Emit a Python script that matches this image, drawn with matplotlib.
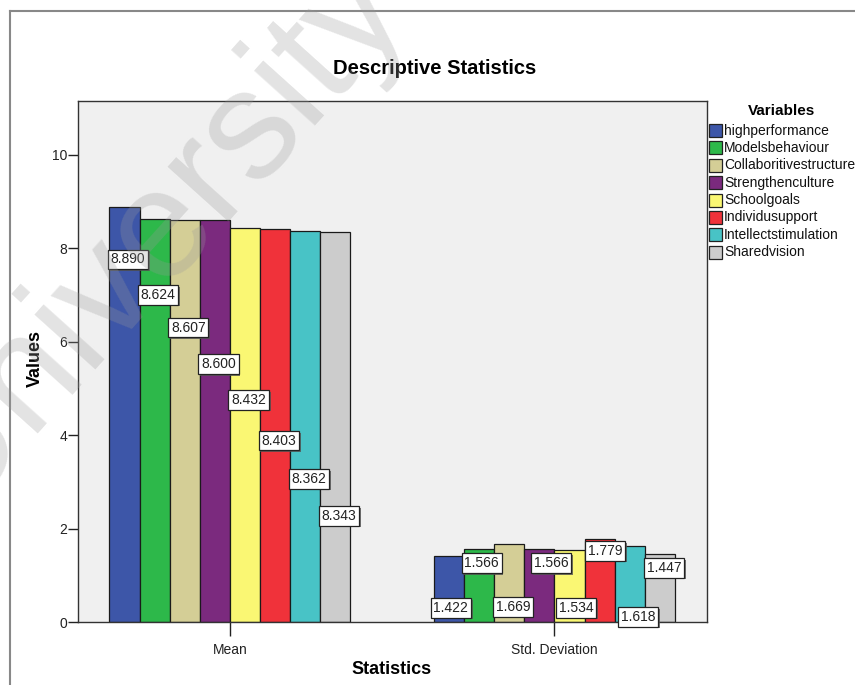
import matplotlib
matplotlib.use("Agg")
import matplotlib.pyplot as plt
import numpy as np
from matplotlib.patches import Rectangle
from matplotlib.lines import Line2D
import matplotlib.patheffects as pe

plt.rcParams['font.family'] = ['Liberation Sans', 'DejaVu Sans']

# ---------------- data ----------------
statistics = ["Mean", "Std. Deviation"]
variables = ["highperformance", "Modelsbehaviour", "Collaboritivestructure",
             "Strengthenculture", "Schoolgoals", "Individusupport",
             "Intellectstimulation", "Sharedvision"]
mean_values = [8.890, 8.624, 8.607, 8.600, 8.432, 8.403, 8.362, 8.343]
std_values = [1.422, 1.566, 1.669, 1.566, 1.534, 1.779, 1.618, 1.447]
colors = ["#3D56A8", "#2DB84A", "#D4CE96", "#7B2A7E",
          "#FAF773", "#F0323A", "#48C3C6", "#CCCCCC"]
yticks = [0, 2, 4, 6, 8, 10]

# label placement (layout only, in value units)
mean_label_y = [7.76, 7.00, 6.30, 5.52, 4.75, 3.88, 3.06, 2.27]
std_label_y = [0.30, 1.26, 0.32, 1.26, 0.30, 1.52, 0.11, 1.16]
std_label_dx = [-0.006, -0.003, 0.0, 0.025, 0.009, 0.006, 0.015, 0.003]

W, H = 855, 685
fig = plt.figure(figsize=(W / 100, H / 100), dpi=100)
fig.patch.set_facecolor("white")

ax = fig.add_axes([78 / W, 1 - 622 / H, (707 - 78) / W, (622 - 101) / H])
ax.set_facecolor("#F0F0F0")

n = len(variables)
bw = 0.0928
x = np.arange(len(statistics))
series = np.array([mean_values, std_values]).T  # shape (n_vars, n_stats)

for i in range(n):
    offs = (i - (n - 1) / 2) * bw
    ax.bar(x + offs, series[i], width=bw, color=colors[i],
           edgecolor="#1a1a1a", linewidth=0.9, zorder=2, label=variables[i])

bbox_kw = dict(boxstyle="square,pad=0.2", facecolor="white",
               edgecolor="#222222", linewidth=0.9,
               path_effects=[pe.SimplePatchShadow(offset=(1.2, -1.2),
                                                  shadow_rgbFace="#555555",
                                                  alpha=0.8),
                             pe.Normal()])
for i in range(n):
    left = (i - n / 2) * bw
    ax.text(x[0] + left + 0.004, mean_label_y[i], f"{mean_values[i]:.3f}",
            ha="left", va="center", fontsize=10, color="#222222",
            bbox=bbox_kw, zorder=4)
    ax.text(x[1] + left + 0.004 + std_label_dx[i], std_label_y[i],
            f"{std_values[i]:.3f}",
            ha="left", va="center", fontsize=10, color="#222222",
            bbox=bbox_kw, zorder=4)

ax.set_xlim(-0.468, 1.470)
ax.set_ylim(0, 11.15)
ax.set_yticks(yticks)
ax.set_yticklabels([str(t) for t in yticks])
ax.set_xticks(x)
ax.set_xticklabels(statistics)
ax.tick_params(axis="y", length=7, width=1, pad=1, labelsize=10,
               colors="#222222")
ax.tick_params(axis="x", length=10, width=1, pad=5, labelsize=10,
               colors="#222222")
for s in ax.spines.values():
    s.set_color("#333333")
    s.set_linewidth(1.0)

fig.text(35 / W, 1 - 358 / H, "Values", rotation=90, ha="center",
         va="center", fontsize=13, fontweight="bold")
fig.text(392 / W, 1 - 670 / H, "Statistics", ha="center",
         va="center", fontsize=13, fontweight="bold")

fig.text(435 / W, 1 - 68 / H, "Descriptive Statistics", ha="center",
         va="center", fontsize=14.5, fontweight="bold")

# legend (manual, right of plot)
fig.text(782 / W, 1 - 111 / H, "Variables", ha="center", va="center",
         fontsize=11, fontweight="bold")
for i, (name, c) in enumerate(zip(variables, colors)):
    yc = 130.5 + i * 17.4
    fig.patches.append(Rectangle((709 / W, 1 - (yc + 6.5) / H), 13 / W, 13 / H,
                                 transform=fig.transFigure, facecolor=c,
                                 edgecolor="#222222", linewidth=0.9))
    fig.text(724 / W, 1 - yc / H, name, ha="left", va="center",
             fontsize=10, color="#111111")

# outer frame
fig.lines.append(Line2D([10 / W, 1.0], [1 - 11 / H, 1 - 11 / H],
                        transform=fig.transFigure, color="#888888", linewidth=1.5))
fig.lines.append(Line2D([10 / W, 10 / W], [0, 1 - 11 / H],
                        transform=fig.transFigure, color="#888888", linewidth=1.5))

# watermark
fig.text(150 / W, 1 - 235 / H, "University", rotation=48, ha="center",
         va="center", fontsize=112, color="#9a9a9a", alpha=0.28,
         rotation_mode="anchor", zorder=10)

fig.savefig("out.png", dpi=100)
